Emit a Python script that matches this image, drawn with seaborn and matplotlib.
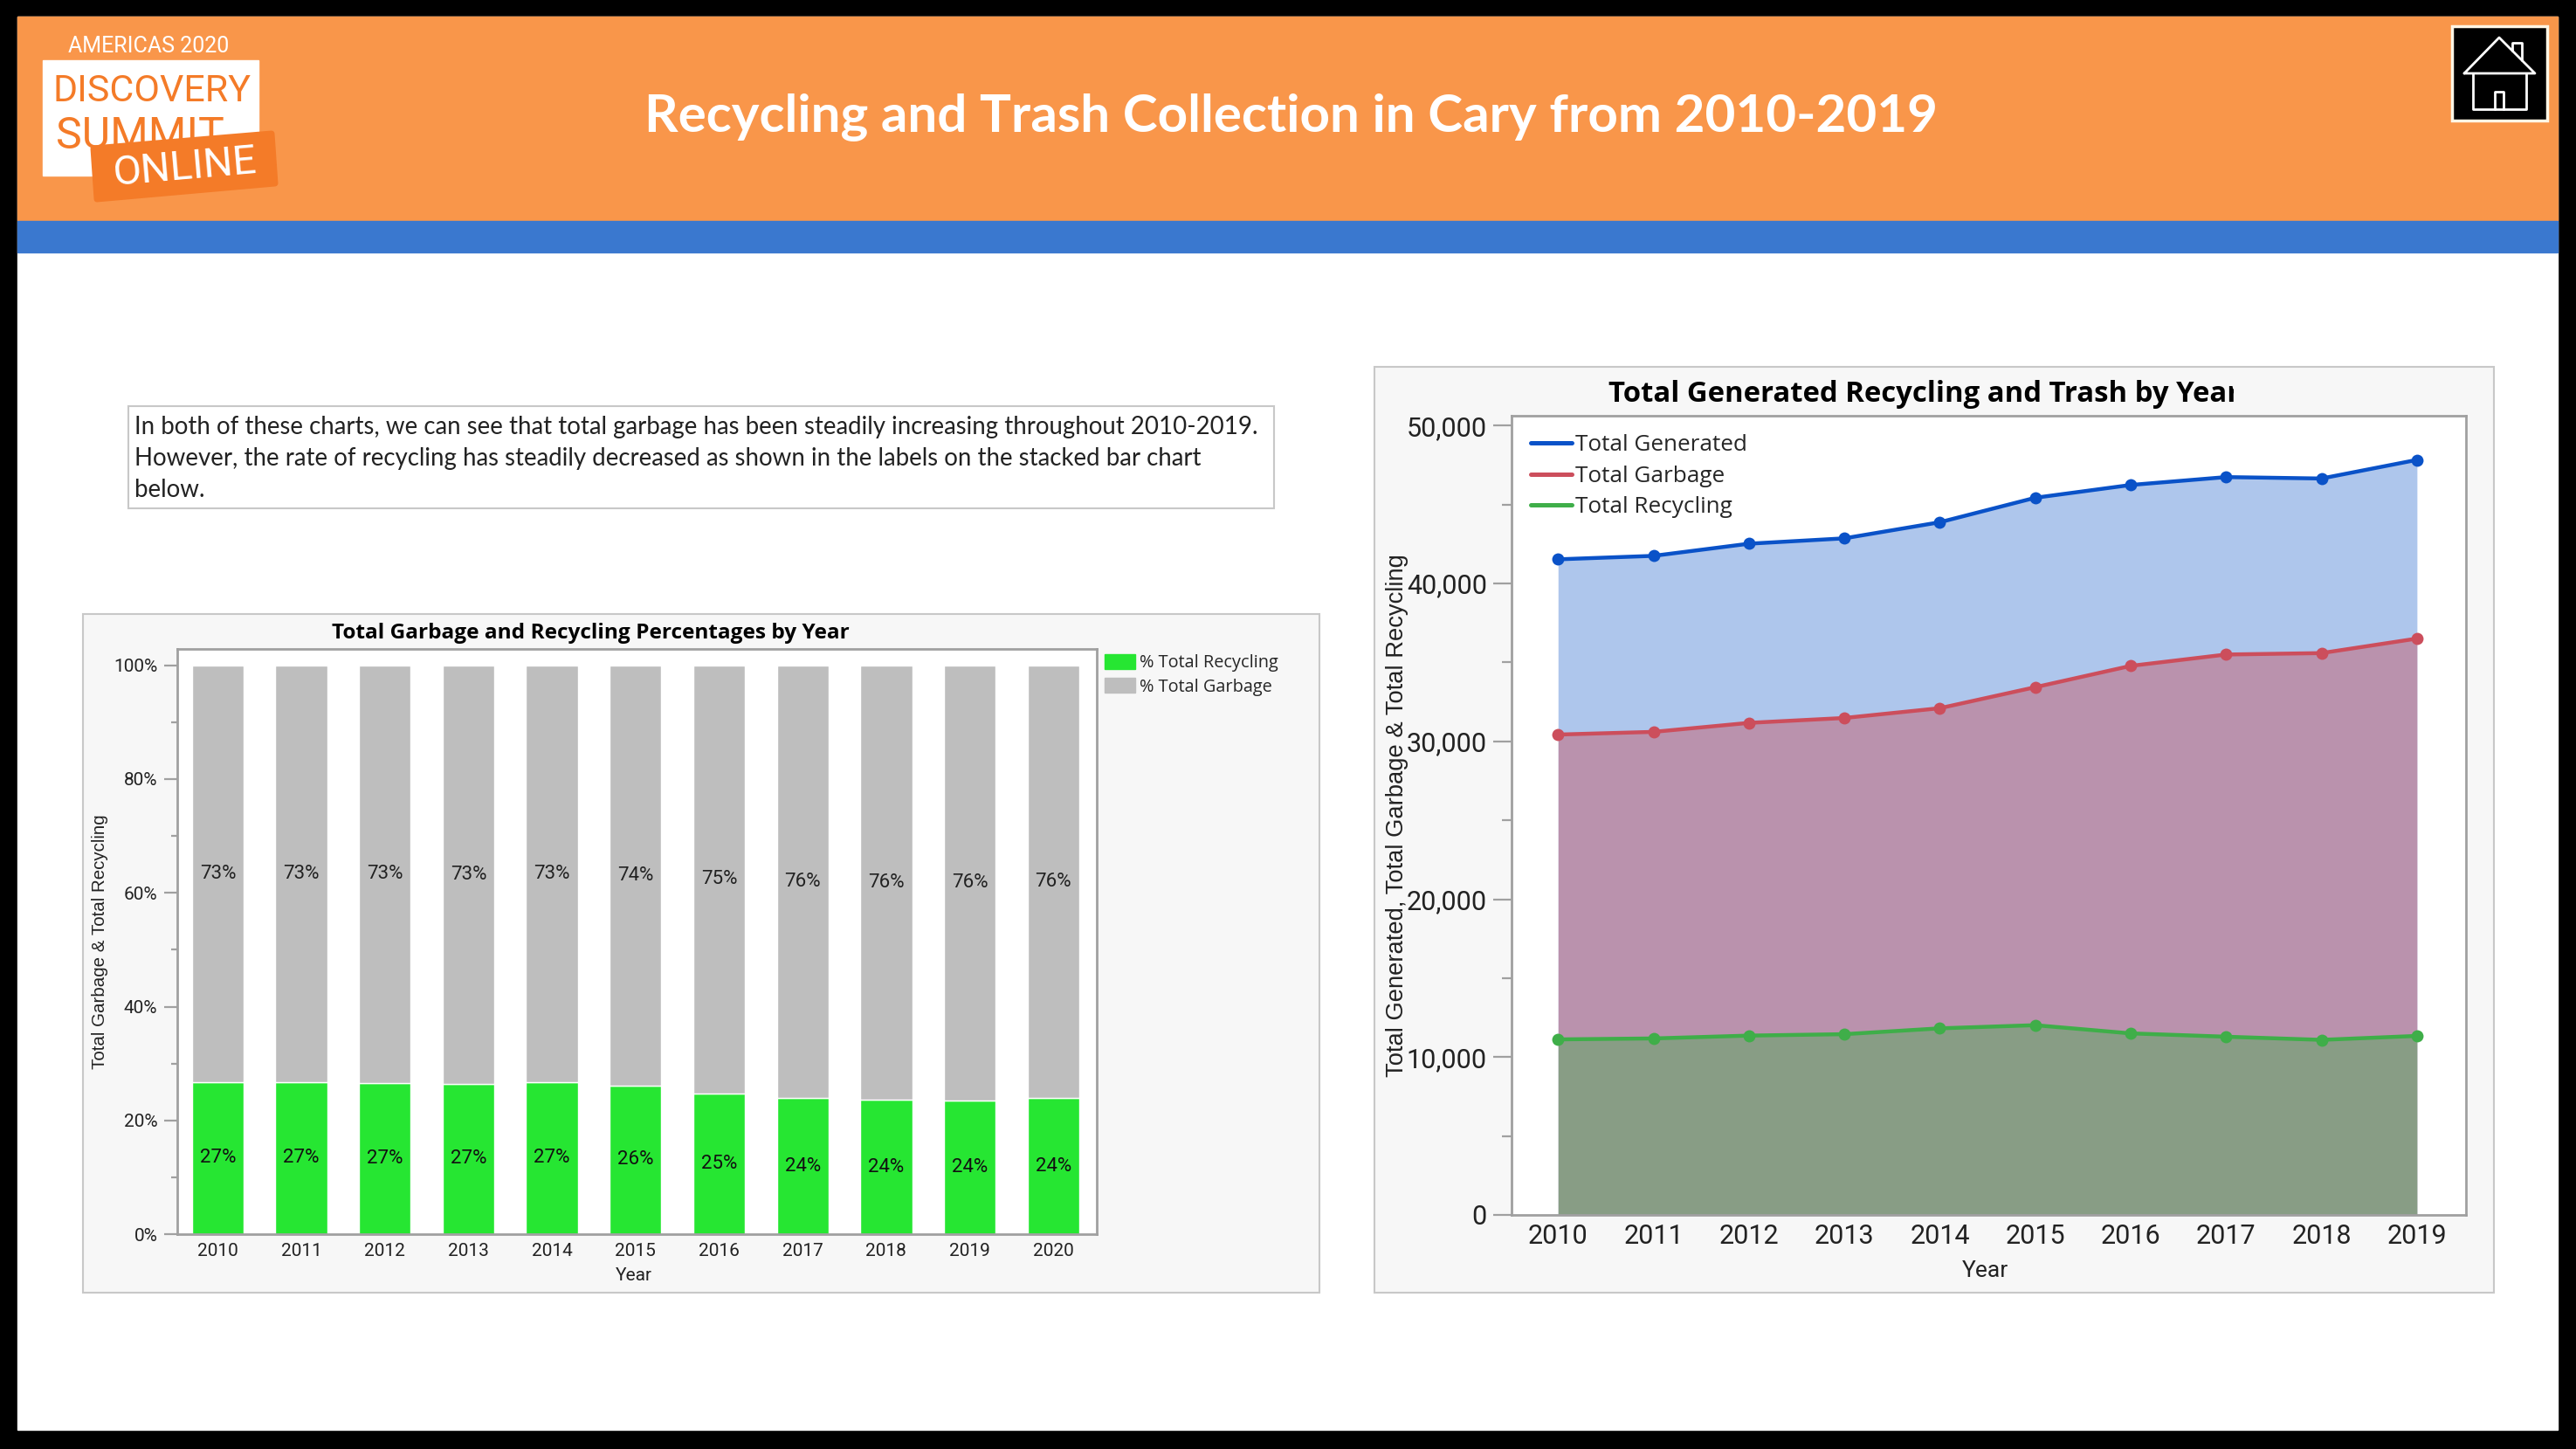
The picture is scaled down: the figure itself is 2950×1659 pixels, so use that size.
import matplotlib
matplotlib.use('Agg')
import matplotlib.pyplot as plt
import seaborn as sns
from matplotlib.patches import Rectangle, Polygon, Patch
from matplotlib.ticker import MultipleLocator, FuncFormatter
from matplotlib.transforms import Bbox

W, H = 2950, 1659

bar_years = ['2010', '2011', '2012', '2013', '2014', '2015', '2016', '2017', '2018', '2019', '2020']
pct_recycling = [26.8, 26.8, 26.55, 26.5, 26.8, 26.2, 24.7, 24.0, 23.7, 23.5, 24.0]
pct_garbage = [73.2, 73.2, 73.45, 73.5, 73.2, 73.8, 75.3, 76.0, 76.3, 76.5, 76.0]
recycling_labels = ['27%', '27%', '27%', '27%', '27%', '26%', '25%', '24%', '24%', '24%', '24%']
garbage_labels = ['73%', '73%', '73%', '73%', '73%', '74%', '75%', '76%', '76%', '76%', '76%']

line_years = [2010, 2011, 2012, 2013, 2014, 2015, 2016, 2017, 2018, 2019]
total_generated = [41530, 41750, 42520, 42860, 43880, 45430, 46240, 46740, 46650, 47830]
total_garbage = [30430, 30600, 31170, 31480, 32100, 33430, 34780, 35500, 35590, 36510]
total_recycling = [11120, 11180, 11360, 11450, 11820, 12020, 11500, 11290, 11090, 11340]

note_lines = [
    'In both of these charts, we can see that total garbage has been steadily increasing throughout 2010-2019.',
    'However, the rate of recycling has steadily decreased as shown in the labels on the stacked bar chart',
    'below.',
]

GREEN_BAR = '#26E632'
GREY_BAR = '#BEBEBE'
BLUE = '#0A52C8'
RED = '#CC4E5C'
GREEN = '#3FAE49'
AXIS = '#A0A0A0'
TICK_FONT = 'Roboto'

sns.set_theme(style='white')
plt.rcParams['font.family'] = ['Open Sans', 'DejaVu Sans']


def axes_at(fig, left, top, right, bottom):
    return fig.add_axes([left / W, 1 - bottom / H, (right - left) / W, (bottom - top) / H])


def style_axes(ax, major_len, minor_len, size):
    for side in ['top', 'right', 'left', 'bottom']:
        ax.spines[side].set_color(AXIS)
        ax.spines[side].set_linewidth(2)
    ax.tick_params(axis='y', which='major', length=major_len, width=1.6, color=AXIS,
                   pad=5, labelsize=size, labelcolor='#222222', left=True)
    ax.tick_params(axis='y', which='minor', length=minor_len, width=1.6, color=AXIS, left=True)
    ax.tick_params(axis='x', length=0, pad=7, labelsize=size, labelcolor='#222222')
    for label in ax.get_xticklabels() + ax.get_yticklabels():
        label.set_family(TICK_FONT)


fig = plt.figure(figsize=(W / 100, H / 100), dpi=100, facecolor='black')

# slide background and header, drawn in pixel coordinates
bg = fig.add_axes([0, 0, 1, 1])
bg.set_xlim(0, W)
bg.set_ylim(H, 0)
bg.axis('off')
bg.add_patch(Rectangle((20, 19), 2909, 1618, color='white'))
bg.add_patch(Rectangle((20, 19), 2909, 233, color='#F9964A'))
bg.add_patch(Rectangle((20, 253), 2909, 36, color='#3A78CF'))
bg.text(1478, 135, 'Recycling and Trash Collection in Cary from 2010-2019', color='white',
        fontsize=43.3, fontweight='bold', family='Lato', ha='center', va='center')

# logo
bg.text(170, 53, 'AMERICAS 2020', color='white', fontsize=18, family=TICK_FONT, ha='center', va='center')
bg.add_patch(Rectangle((49, 69), 247, 132, color='white'))
bg.text(174, 104, 'DISCOVERY', color='#F47B28', fontsize=31, family=TICK_FONT, ha='center', va='center')
bg.text(64, 156, 'SUMMIT', color='#F47B28', fontsize=36, family=TICK_FONT, ha='left', va='center')
bg.add_patch(Polygon([(107, 170), (311, 153), (315, 210), (111, 228)], closed=True,
                     facecolor='#F47B28', edgecolor='#F47B28', linewidth=5, joinstyle='round'))
bg.text(211, 192, 'ONLINE', color='white', fontsize=34, family=TICK_FONT, rotation=5,
        rotation_mode='anchor', ha='center', va='center')

# home button
bg.add_patch(Rectangle((2808, 30), 109, 108, facecolor='black', edgecolor='#FFF6E5', linewidth=2.5))
bg.plot([2822, 2862, 2903, 2822], [84, 43, 84, 84], color='white', lw=2)
bg.plot([2832, 2832, 2893, 2893], [84, 125, 125, 84], color='white', lw=2)
bg.plot([2857, 2857, 2867, 2867], [125, 105, 105, 125], color='white', lw=2)
bg.plot([2877, 2877, 2888, 2888], [58, 49, 49, 69], color='white', lw=2)

# note box
bg.add_patch(Rectangle((147, 465), 1312, 117, facecolor='white', edgecolor='#C8C8C8', linewidth=1.5))
for y, line in zip([489, 525, 561], note_lines):
    bg.text(154, y, line, color='#222222', fontsize=19.9, family='Lato', ha='left', va='center')

# chart panels
bg.add_patch(Rectangle((95, 703), 1416, 777, facecolor='#F7F7F7', edgecolor='#C8C8C8', linewidth=1.5))
bg.add_patch(Rectangle((1574, 420), 1282, 1060, facecolor='#F7F7F7', edgecolor='#C8C8C8', linewidth=1.5))

# stacked percentages
ax1 = axes_at(fig, 202.5, 742.7, 1256, 1413.3)
sns.barplot(x=bar_years, y=pct_recycling, color=GREEN_BAR, saturation=1, width=0.62, ax=ax1)
sns.barplot(x=bar_years, y=pct_garbage, bottom=pct_recycling, color=GREY_BAR, saturation=1, width=0.62, ax=ax1)
ax1.bar_label(ax1.containers[0], labels=recycling_labels, label_type='center', fontsize=16, family=TICK_FONT, color='#111111')
ax1.bar_label(ax1.containers[1], labels=garbage_labels, label_type='center', fontsize=16, family=TICK_FONT, color='#222222')
ax1.set_xlim(-0.49, 10.52)
ax1.set_ylim(0, 102.9)
ax1.yaxis.set_major_locator(MultipleLocator(20))
ax1.yaxis.set_minor_locator(MultipleLocator(10))
ax1.yaxis.set_major_formatter(FuncFormatter(lambda v, _: f'{v:.0f}%'))
style_axes(ax1, 11, 5, 15)
ax1.set_xlabel('Year', fontsize=15, family=TICK_FONT, color='#222222')
ax1.xaxis.set_label_coords(0.497, (1413.3 - 1460) / 670.6, transform=ax1.transAxes)
ax1.xaxis.label.set_va('center')
ax1.set_ylabel('Total Garbage & Total Recycling', fontsize=14.8, family='Liberation Sans', color='#222222')
ax1.yaxis.set_label_coords((114.5 - 202.5) / 1053.5, 0.5, transform=ax1.transAxes)
ax1.yaxis.label.set_va('center')
ax1.legend(handles=[Patch(color=GREEN_BAR, label='% Total Recycling'), Patch(color=GREY_BAR, label='% Total Garbage')],
           loc='upper left', bbox_to_anchor=(1265 / W, 1 - 749 / H), bbox_transform=fig.transFigure,
           frameon=False, borderpad=0, borderaxespad=0, handlelength=1.75, handleheight=0.95,
           handletextpad=0.25, labelspacing=0.35, prop={'family': 'Open Sans', 'size': 14.3})
bg.text(676, 725, 'Total Garbage and Recycling Percentages by Year', color='black', fontsize=17.6,
        fontweight='bold', family='Open Sans', ha='center', va='center')

# area chart
ax2 = axes_at(fig, 1730.7, 475.7, 2823.6, 1391)
ax2.fill_between(line_years, total_generated, color=BLUE, alpha=0.33, linewidth=0)
ax2.fill_between(line_years, total_garbage, color=RED, alpha=0.43, linewidth=0)
ax2.fill_between(line_years, total_recycling, color=GREEN, alpha=0.4, linewidth=0)
for values, color, name in [(total_generated, BLUE, 'Total Generated'), (total_garbage, RED, 'Total Garbage'),
                            (total_recycling, GREEN, 'Total Recycling')]:
    sns.lineplot(x=line_years, y=values, color=color, marker='o', markersize=10, markeredgewidth=0,
                 linewidth=3.2, label=name, ax=ax2, errorbar=None)
ax2.set_xlim(2009.51, 2019.51)
ax2.set_ylim(0, 50642)
ax2.set_xticks(line_years)
ax2.yaxis.set_major_locator(MultipleLocator(10000))
ax2.yaxis.set_minor_locator(MultipleLocator(5000))
ax2.yaxis.set_major_formatter(FuncFormatter(lambda v, _: f'{v:,.0f}'))
style_axes(ax2, 15, 8, 22)
ax2.set_xlabel('Year', fontsize=19, family=TICK_FONT, color='#222222')
ax2.xaxis.set_label_coords(0.497, (1391 - 1455) / 915.3, transform=ax2.transAxes)
ax2.xaxis.label.set_va('center')
ax2.set_ylabel('Total Generated, Total Garbage & Total Recycling', fontsize=19.7, family='Liberation Sans', color='#222222')
ax2.yaxis.set_label_coords((1600 - 1730.7) / 1092.9, 0.5, transform=ax2.transAxes)
ax2.yaxis.label.set_va('center')
leg = ax2.legend(loc='upper left', bbox_to_anchor=(1753 / W, 1 - 497 / H), bbox_transform=fig.transFigure,
                 frameon=False, borderpad=0, borderaxespad=0, handlelength=1.8, handletextpad=0.15,
                 labelspacing=0.41, prop={'family': 'Open Sans', 'size': 18.8})
for handle in leg.get_lines():
    handle.set_marker('None')
    handle.set_linewidth(3.6)
title = bg.text(2204, 451, 'Total Generated Recycling and Trash by Year', color='black', fontsize=23.7,
                fontweight='bold', family='Open Sans', ha='center', va='center')
title.set_clip_box(Bbox([[1600, 0], [2558, H]]))
title.set_clip_on(True)

fig.savefig('out.png', dpi=100, facecolor='black')
